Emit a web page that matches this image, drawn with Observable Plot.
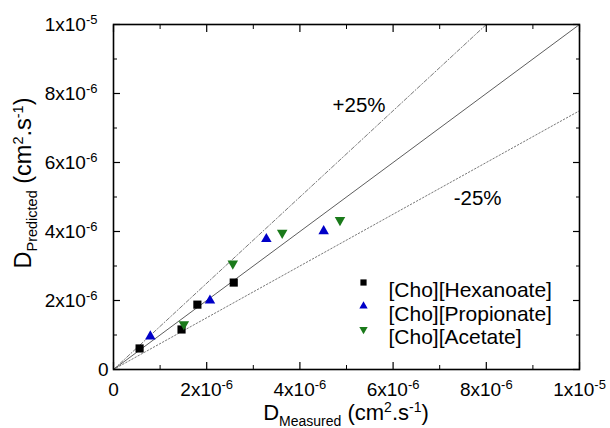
<!DOCTYPE html>
<html><head><meta charset="utf-8">
<script src="https://cdn.jsdelivr.net/npm/d3@7"></script>
<script src="https://cdn.jsdelivr.net/npm/@observablehq/plot@0.6"></script>
<style>body{margin:0;background:#fff}</style>
</head><body><div id="chart"></div>
<script>
// ---- data ----
const seriesNames = ["[Cho][Hexanoate]", "[Cho][Propionate]", "[Cho][Acetate]"];
const seriesColors = ["#000000", "#0000c8", "#1a7a1a"];
const hexMeasured = [0.56e-6, 1.46e-6, 1.80e-6, 2.58e-6];
const hexPredicted = [0.61e-6, 1.16e-6, 1.88e-6, 2.52e-6];
const propMeasured = [0.79e-6, 2.07e-6, 3.28e-6, 4.51e-6];
const propPredicted = [0.96e-6, 2.00e-6, 3.78e-6, 4.01e-6];
const aceMeasured = [1.51e-6, 2.56e-6, 3.62e-6, 4.86e-6];
const acePredicted = [1.31e-6, 3.07e-6, 3.96e-6, 4.33e-6];
const majorTicks = [0, 2e-6, 4e-6, 6e-6, 8e-6, 1e-5];
const minorTicks = [1e-6, 3e-6, 5e-6, 7e-6, 9e-6];
const tickLabels = ["0", "2x10^-6", "4x10^-6", "6x10^-6", "8x10^-6", "1x10^-5"];
const refX = [0, 1e-5];
const parityY = [0, 1e-5];
const plus25Y = [0, 1.25e-5];
const minus25Y = [0, 0.75e-5];
const bandLabels = ["+25%", "-25%"];
const bandLabelX = [4.70e-6, 7.30e-6];
const bandLabelY = [7.66e-6, 4.96e-6];

// ---- build ----
const triangleDown = {
  draw(context, size) {
    const y = -Math.sqrt(size / (Math.sqrt(3) * 3));
    context.moveTo(0, -2 * y);
    context.lineTo(-Math.sqrt(3) * y, y);
    context.lineTo(Math.sqrt(3) * y, y);
    context.closePath();
  }
};
const symbols = ["square", "triangle", triangleDown];
const seriesMeasured = [hexMeasured, propMeasured, aceMeasured];
const seriesPredicted = [hexPredicted, propPredicted, acePredicted];

const refTable = (ys) => refX.map((x, i) => ({x, y: ys[i]}));
const fmt = d => { const i = majorTicks.indexOf(d); return i >= 0 ? tickLabels[i] : ""; };
const blank = () => "";
const FS = 19;

const marks = [
  Plot.line(refTable(parityY), {x: "x", y: "y", stroke: "#333", strokeWidth: 0.8, clip: true}),
  Plot.line(refTable(plus25Y), {x: "x", y: "y", stroke: "#555", strokeWidth: 0.8, strokeDasharray: "4 2 1 2", clip: true}),
  Plot.line(refTable(minus25Y), {x: "x", y: "y", stroke: "#555", strokeWidth: 0.8, strokeDasharray: "1.5 2", clip: true}),
  Plot.text(bandLabels, {x: bandLabelX, y: bandLabelY, text: d => d, textAnchor: "start", fontSize: 20.5, fill: "black"}),
  // axes: major ticks (inward) with labels
  Plot.axisX({anchor: "bottom", ticks: majorTicks, tickSize: -7, tickPadding: 20, tickFormat: fmt, fontSize: FS, label: null, strokeWidth: 1.2}),
  Plot.axisY({anchor: "left", ticks: majorTicks, tickSize: -7, tickPadding: 23, tickFormat: fmt, fontSize: FS, label: null, strokeWidth: 1.2}),
  Plot.axisX({anchor: "top", ticks: majorTicks, tickSize: -7, tickFormat: blank, label: null, strokeWidth: 1.2}),
  Plot.axisY({anchor: "right", ticks: majorTicks, tickSize: -7, tickFormat: blank, label: null, strokeWidth: 1.2}),
  // minor ticks
  Plot.axisX({anchor: "bottom", ticks: minorTicks, tickSize: -4, tickFormat: blank, label: null, strokeWidth: 1}),
  Plot.axisX({anchor: "top", ticks: minorTicks, tickSize: -4, tickFormat: blank, label: null, strokeWidth: 1}),
  Plot.axisY({anchor: "left", ticks: minorTicks, tickSize: -4, tickFormat: blank, label: null, strokeWidth: 1}),
  Plot.axisY({anchor: "right", ticks: minorTicks, tickSize: -4, tickFormat: blank, label: null, strokeWidth: 1}),
  Plot.frame({stroke: "black", strokeWidth: 1.6})
];

seriesNames.forEach((name, k) => {
  const table = seriesMeasured[k].map((m, i) => ({m, p: seriesPredicted[k][i]}));
  marks.push(Plot.dot(table, {x: "m", y: "p", symbol: symbols[k], fill: seriesColors[k], stroke: "none", r: k === 0 ? 4.6 : 3.9}));
  // legend
  marks.push(Plot.dot([name], {frameAnchor: "top-left", dx: 250, dy: 258 + 23.5 * k, symbol: symbols[k], fill: seriesColors[k], stroke: "none", r: k === 0 ? 3.5 : 3.1}));
  marks.push(Plot.text([name], {frameAnchor: "top-left", dx: 275, dy: 258 + 23.5 * k, text: d => d, textAnchor: "start", fontSize: 21, fill: "black"}));
});

const svg = Plot.plot({
  width: 610, height: 428,
  marginLeft: 113, marginRight: 31, marginTop: 24, marginBottom: 59,
  x: {domain: [0, 1e-5]},
  y: {domain: [0, 1e-5]},
  style: {fontFamily: "Arial, 'Liberation Sans', sans-serif", color: "black", background: "white"},
  marks
});

// superscripts for tick labels
d3.select(svg).selectAll("text").each(function() {
  const t = this.textContent;
  const m = /^(.*)\^(.*)$/.exec(t);
  if (!m) return;
  const sel = d3.select(this);
  sel.text(null);
  sel.append("tspan").text(m[1]);
  sel.append("tspan").attr("font-size", 13).attr("dy", -7).text(m[2]);
});
// the plain "0" label on the y axis sits closer to the axis
d3.select(svg).selectAll('g[aria-label="y-axis tick label"] text').each(function() {
  if (this.textContent === "0") {
    const tr = this.getAttribute("transform") || "";
    this.setAttribute("transform", tr + " translate(11,0)");
  }
});

function richText(parent, parts, attrs) {
  const t = d3.select(parent).append("text").attr("fill", "black")
    .attr("font-family", "Arial, 'Liberation Sans', sans-serif");
  for (const [k, v] of Object.entries(attrs)) t.attr(k, v);
  for (const p of parts) t.append("tspan").attr("font-size", p.size).attr("dy", p.dy || 0).text(p.t);
  return t;
}
const titleParts = (sub, big, small) => [
  {t: "D", size: big},
  {t: sub, size: small, dy: 6},
  {t: " (cm", size: big, dy: -6},
  {t: "2", size: small, dy: -8},
  {t: ".s", size: big, dy: 8},
  {t: "-1", size: small, dy: -8},
  {t: ")", size: big, dy: 8}
];
richText(svg, titleParts("Measured", 22, 14), {"text-anchor": "middle", x: 346, y: 420});
richText(svg, titleParts("Predicted", 23.5, 14.5), {"text-anchor": "middle", transform: "translate(31,183) rotate(-90)"});

document.getElementById("chart").append(svg);
</script>
</body></html>
